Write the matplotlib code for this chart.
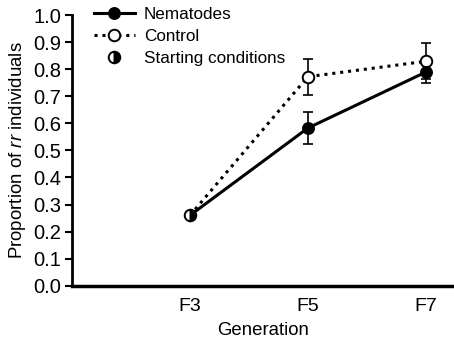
import matplotlib
matplotlib.use("Agg")
import matplotlib.pyplot as plt

plt.rcParams['font.family'] = ['Liberation Sans', 'DejaVu Sans']
plt.rcParams['mathtext.fontset'] = 'custom'
plt.rcParams['mathtext.it'] = 'Liberation Sans:italic'
plt.rcParams['mathtext.rm'] = 'Liberation Sans'

generations = ["F3", "F5", "F7"]
x_pos = [1, 2, 3]
nematodes = [0.26, 0.583, 0.79]
nematodes_err = [0.0, 0.06, 0.04]
control = [0.26, 0.773, 0.83]
control_err = [0.0, 0.066, 0.067]
start_value = [0.26]

ms = 8.3
fig = plt.figure(figsize=(4.54, 3.42), dpi=100)
ax = fig.add_axes([0.159, 0.165, 0.841, 0.79])

ax.errorbar(x_pos[1:], control[1:], yerr=control_err[1:], fmt='none', ecolor='black',
            elinewidth=1.2, capsize=3.3, capthick=1.2, zorder=2)
ax.errorbar(x_pos[1:], nematodes[1:], yerr=nematodes_err[1:], fmt='none', ecolor='black',
            elinewidth=1.2, capsize=3.3, capthick=1.2, zorder=2)
ax.plot(x_pos, control, color='black', linestyle=(0, (1, 1.6)), linewidth=2.2,
        zorder=3)
ax.plot(x_pos, nematodes, color='black', linestyle='-', linewidth=2.2, zorder=3)
ax.plot(x_pos[1:], control[1:], linestyle='none', marker='o', markersize=ms,
        markerfacecolor='white', markeredgecolor='black', markeredgewidth=1.4, zorder=4)
ax.plot(x_pos[1:], nematodes[1:], linestyle='none', marker='o', markersize=ms,
        markerfacecolor='black', markeredgecolor='black', zorder=4)
ax.plot(x_pos[:1], start_value, linestyle='none', marker='o', markersize=ms,
        fillstyle='right', markerfacecolor='black', markerfacecoloralt='white',
        markeredgecolor='black', markeredgewidth=1.4, zorder=5)

# legend handles
h1, = ax.plot([], [], color='black', linestyle='-', linewidth=2.2, marker='o',
              markersize=ms, markerfacecolor='black')
h2, = ax.plot([], [], color='black', linestyle=(0, (1, 1.6)), linewidth=2.2, marker='o',
              markersize=ms, markerfacecolor='white', markeredgewidth=1.4)
h3, = ax.plot([], [], linestyle='none', marker='o', markersize=ms, fillstyle='right',
              markerfacecolor='black', markerfacecoloralt='white', markeredgecolor='black',
              markeredgewidth=1.4)
ax.legend([h1, h2, h3], ["Nematodes", "Control", "Starting conditions"],
          loc='upper left', bbox_to_anchor=(0.038, 1.055), frameon=False, fontsize=12.3,
          handlelength=2.4, handletextpad=0.55, labelspacing=0.4, borderaxespad=0)

ax.set_xlim(0, 3.24)
ax.set_ylim(0, 1.0)
ax.set_xticks(x_pos)
ax.set_xticklabels(generations)
ax.set_yticks([i / 10 for i in range(11)])
ax.set_yticklabels([f"{i/10:.1f}" for i in range(11)])
ax.tick_params(axis='x', length=0, labelsize=14, pad=9)
ax.tick_params(axis='y', direction='out', length=5, width=1.5, labelsize=14.5, pad=3)
for s in ['top', 'right']:
    ax.spines[s].set_visible(False)
ax.spines['left'].set_linewidth(2)
ax.spines['bottom'].set_linewidth(2.5)
ax.spines['left'].set_bounds(0, 1.0)
ax.set_xlabel("Generation", fontsize=13.4, labelpad=5)
ax.set_ylabel(r"Proportion of $\it{rr}$ individuals", fontsize=13.4, labelpad=4)

fig.savefig("out.png", dpi=100)
